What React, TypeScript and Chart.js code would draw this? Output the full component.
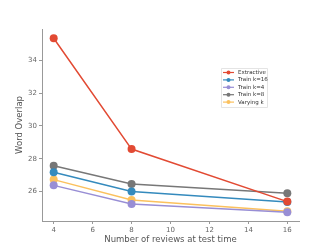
import React, { useEffect, useRef } from "react";
import { Chart, registerables } from "chart.js";
Chart.register(...registerables);

const reviews = [4, 8, 16];
const seriesNames = ["Extractive", "Train k=16", "Train k=4", "Train k=8", "Varying k"];
const extractive = [35.34, 28.59, 25.39];
const trainK16 = [27.18, 26.0, 25.37];
const trainK4 = [26.38, 25.25, 24.74];
const trainK8 = [27.57, 26.47, 25.9];
const varyingK = [26.73, 25.49, 24.8];
const xTicks = [4, 6, 8, 10, 12, 14, 16];
const yTicks = [26, 28, 30, 32, 34];
const colors = ["#E24A33", "#348ABD", "#988ED5", "#777777", "#FBC15E"];

const FONT = "'DejaVu Sans', sans-serif";

const legendPlugin = {
  id: "innerLegend",
  afterDraw(chart: any) {
    const ctx = chart.ctx;
    const x0 = 221, y0 = 68, w = 46, h = 39;
    ctx.save();
    ctx.fillStyle = "rgba(255,255,255,0.9)";
    ctx.strokeStyle = "#dddddd";
    ctx.lineWidth = 0.8;
    ctx.beginPath();
    ctx.rect(x0 + 0.5, y0 + 0.5, w, h);
    ctx.fill();
    ctx.stroke();
    ctx.font = `5.5px ${FONT}`;
    ctx.textBaseline = "middle";
    chart.data.datasets.forEach((ds: any, i: number) => {
      const y = 72.5 + i * 7.4;
      ctx.strokeStyle = ds.borderColor;
      ctx.lineWidth = 1.2;
      ctx.beginPath();
      ctx.moveTo(223, y);
      ctx.lineTo(234, y);
      ctx.stroke();
      ctx.fillStyle = ds.borderColor;
      ctx.beginPath();
      ctx.arc(228.5, y, 2, 0, Math.PI * 2);
      ctx.fill();
      ctx.fillStyle = "#333333";
      ctx.fillText(ds.label, 238, y);
    });
    ctx.restore();
  },
};

export default function App() {
  const ref = useRef<HTMLCanvasElement>(null);
  useEffect(() => {
    const all = [extractive, trainK16, trainK4, trainK8, varyingK];
    const chart = new Chart(ref.current!, {
      type: "line",
      data: {
        datasets: all.map((vals, i) => ({
          label: seriesNames[i],
          data: reviews.map((r, j) => ({ x: r, y: vals[j] })),
          borderColor: colors[i],
          backgroundColor: colors[i],
          borderWidth: 1.5,
          pointRadius: 4,
          pointHoverRadius: 4,
          pointBorderWidth: 0,
          fill: false,
          tension: 0,
        })),
      },
      options: {
        animation: false,
        responsive: false,
        maintainAspectRatio: false,
        layout: { padding: { top: 29, right: 33, left: 0, bottom: 0 } },
        plugins: { legend: { display: false }, tooltip: { enabled: false } },
        scales: {
          x: {
            type: "linear",
            min: 3.4,
            max: 16.6,
            afterBuildTicks: (s: any) => {
              s.ticks = xTicks.map((v) => ({ value: v }));
            },
            afterFit: (s: any) => {
              s.height = 28;
            },
            grid: { drawOnChartArea: false, drawTicks: true, tickLength: 3, color: "#999999" },
            border: { display: true, color: "#999999", width: 1 },
            ticks: { color: "#666666", font: { family: FONT, size: 7 }, padding: 2, maxRotation: 0 },
            title: {
              display: true,
              text: "Number of reviews at test time",
              color: "#555555",
              font: { family: FONT, size: 8.5 },
              padding: { top: 1, bottom: 4 },
            },
          },
          y: {
            type: "linear",
            min: 24.21,
            max: 35.9,
            afterBuildTicks: (s: any) => {
              s.ticks = yTicks.map((v) => ({ value: v }));
            },
            afterFit: (s: any) => {
              s.width = 42;
            },
            grid: { drawOnChartArea: false, drawTicks: true, tickLength: 3, color: "#999999" },
            border: { display: true, color: "#999999", width: 1 },
            ticks: { color: "#666666", font: { family: FONT, size: 7 }, padding: 2 },
            title: {
              display: true,
              text: "Word Overlap",
              color: "#555555",
              font: { family: FONT, size: 8.5 },
              padding: { top: 15, bottom: 0 },
            },
          },
        },
      },
      plugins: [legendPlugin],
    } as any);
    return () => chart.destroy();
  }, []);
  return (
    <div style={{ position: "fixed", left: 0, top: 0, width: 332, height: 249, background: "#fff" }}>
      <canvas ref={ref} width={332} height={249} style={{ width: 332, height: 249 }} />
    </div>
  );
}
